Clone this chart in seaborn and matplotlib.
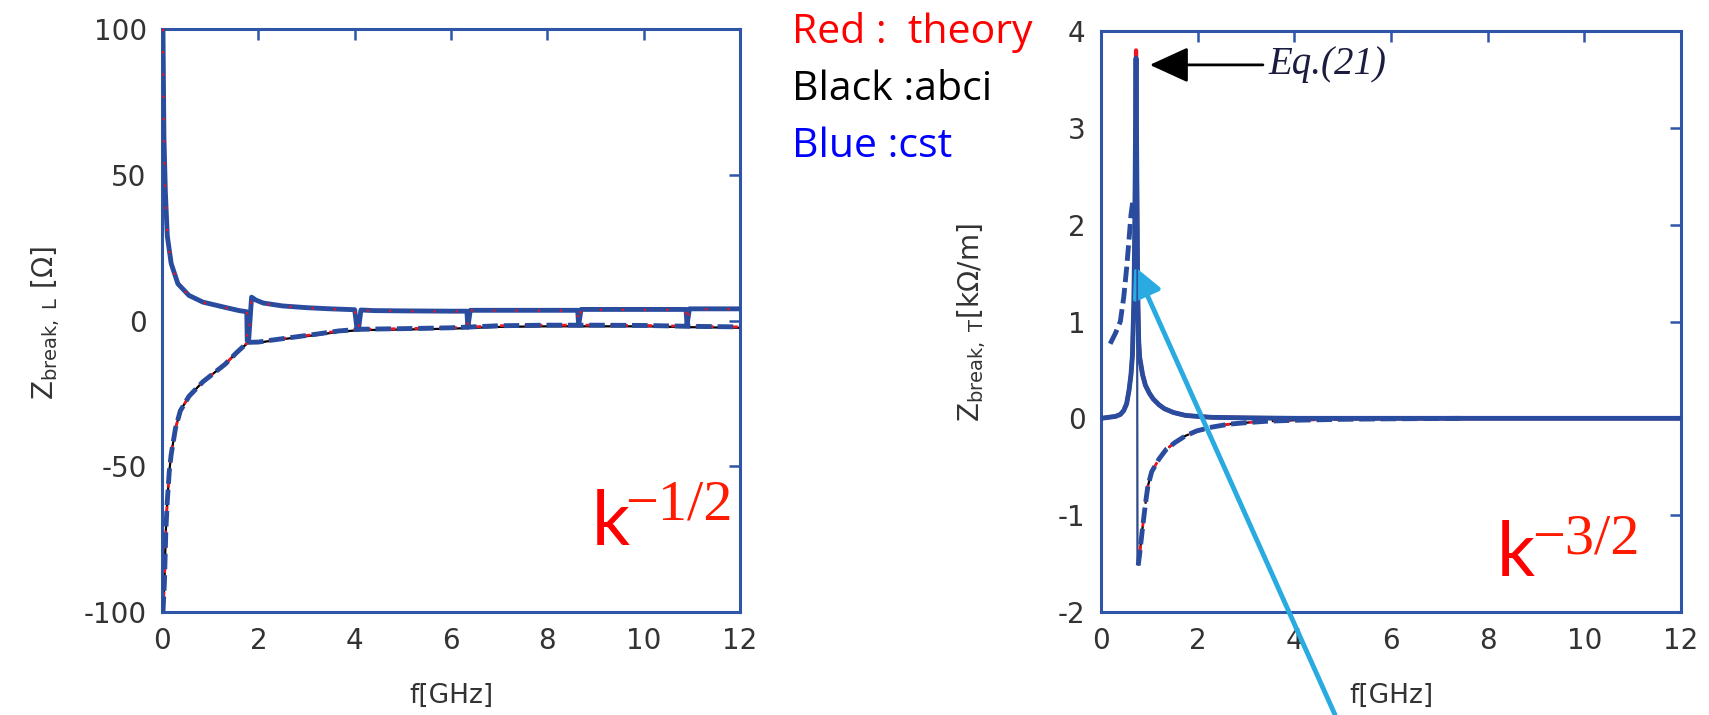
import matplotlib
matplotlib.use("Agg")
import matplotlib.pyplot as plt
import seaborn as sns
import pandas as pd

# ---------------- data ----------------
# Left panel: Z_break,L [Ohm] vs f [GHz]
fL_up = [0.02, 0.04, 0.07, 0.11, 0.19, 0.33, 0.56, 0.85, 1.31, 1.60, 1.76, 1.77, 1.80, 1.86, 1.95,
         2.10, 2.50, 3.00, 3.50, 4.00, 4.05, 4.08, 4.13, 4.40, 5.00, 6.00, 6.33, 6.35, 6.40, 7.00,
         8.00, 8.63, 8.65, 8.70, 9.50, 10.50, 10.88, 10.90, 10.95, 11.50, 12.00]
zL_up_cst = [100, 63, 44, 29, 19.6, 12.6, 8.6, 6.3, 4.5, 3.4, 3.0, -7.0, -6.5, 8.0, 7.0,
             6.0, 5.0, 4.4, 4.0, 3.7, -3.0, -3.0, 3.6, 3.4, 3.3, 3.2, 3.2, -2.3, 3.5, 3.5,
             3.5, 3.5, -1.6, 3.8, 3.8, 3.8, 3.8, -1.5, 4.0, 4.0, 4.0]
zL_up_theory = [100, 62, 43, 29, 19.4, 12.5, 8.5, 6.2, 4.4, 3.3, 3.0, -7.0, -6.5, 7.6, 6.8,
                5.9, 4.9, 4.3, 3.9, 3.6, -3.0, -3.0, 3.5, 3.3, 3.2, 3.1, 3.1, -2.3, 3.4, 3.4,
                3.4, 3.4, -1.6, 3.7, 3.7, 3.7, 3.7, -1.5, 3.9, 3.9, 3.9]
fL_lo = [0.02, 0.05, 0.08, 0.11, 0.15, 0.19, 0.28, 0.38, 0.56, 0.85, 1.31, 1.55, 1.78, 2.00,
         2.25, 2.70, 3.20, 3.66, 4.10, 5.00, 6.00, 7.00, 8.00, 9.00, 10.00, 11.00, 12.00]
zL_lo_cst = [-100, -90, -72, -62, -52, -46, -37, -31, -26, -21, -15, -11, -7.5, -7.4,
             -6.8, -5.8, -4.7, -3.6, -3.0, -2.8, -2.5, -1.8, -1.6, -1.6, -1.7, -2.0, -2.2]
zL_lo_abci = [-100, -90, -72, -62, -52, -46, -37, -31, -26, -21, -15, -11, -7.7, -7.6,
              -7.0, -6.0, -5.0, -3.9, -3.3, -3.1, -2.8, -2.2, -2.0, -2.0, -2.0, -2.3, -2.5]

# Right panel: Z_break,T [kOhm/m] vs f [GHz]
fT_up = [0.00, 0.15, 0.30, 0.40, 0.47, 0.53, 0.58, 0.62, 0.65, 0.68, 0.70, 0.725, 0.74, 0.76,
         0.78, 0.80, 0.86, 0.92, 1.00, 1.08, 1.20, 1.31, 1.50, 1.75, 2.00, 2.30, 3.00, 4.00,
         6.00, 8.00, 10.00, 12.00]
zT_up_cst = [0.0, 0.01, 0.02, 0.04, 0.08, 0.15, 0.29, 0.45, 0.65, 1.20, 2.00, 3.72, 2.60, 1.30,
             0.80, 0.63, 0.45, 0.34, 0.26, 0.20, 0.14, 0.10, 0.06, 0.03, 0.02, 0.01, 0.005, 0.0,
             0.0, 0.0, 0.0, 0.0]
zT_up_theory = [0.0, 0.01, 0.02, 0.04, 0.08, 0.15, 0.29, 0.45, 0.65, 1.20, 2.00, 3.80, 2.60, 1.30,
                0.80, 0.63, 0.45, 0.34, 0.26, 0.20, 0.14, 0.10, 0.06, 0.03, 0.02, 0.01, 0.005, 0.0,
                0.0, 0.0, 0.0, 0.0]
fT_lo = [0.77, 0.80, 0.86, 0.92, 0.97, 1.05, 1.20, 1.35, 1.53, 1.75, 1.98, 2.30, 2.65, 3.00,
         3.43, 4.00, 5.00, 6.00, 7.50]
zT_lo = [-1.52, -1.40, -1.13, -0.88, -0.70, -0.55, -0.42, -0.32, -0.25, -0.18, -0.13, -0.09,
         -0.06, -0.045, -0.03, -0.02, -0.01, -0.005, 0.0]
fT_side = [0.19, 0.30, 0.40, 0.47, 0.53, 0.58, 0.62, 0.66]
zT_side_cst = [0.77, 0.88, 1.00, 1.25, 1.55, 1.85, 2.10, 2.25]
fT_abci_v = [0.745, 0.755]
zT_abci_v = [3.65, -1.50]

# ---------------- styling ----------------
BLUE = "#2a4c9e"
RED = "#f0141e"
SPINE = "#2f55a8"
TXT = "#333333"

sns.set_theme(style="white")
plt.rcParams["font.family"] = ["DejaVu Sans"]

fig = plt.figure(figsize=(17.09, 7.15), dpi=100)
W, H = 1709, 715
axL = fig.add_axes([162 / W, (H - 612) / H, 578 / W, 583 / H])
axR = fig.add_axes([1101 / W, (H - 612) / H, 580 / W, 581 / H])


def line(ax, x, y, color, lw, ls="-", z=2):
    df = pd.DataFrame({"f": x, "z": y})
    sns.lineplot(data=df, x="f", y="z", ax=ax, color=color, lw=lw, sort=False,
                 estimator=None, linestyle=ls, zorder=z)


# left panel
line(axL, fL_up, zL_up_theory, "black", 1.6, z=2)
line(axL, fL_lo, zL_lo_abci, "black", 1.6, z=2)
line(axL, fL_up, zL_up_cst, BLUE, 3.5, z=3)
line(axL, fL_lo, zL_lo_cst, BLUE, 3.5, ls=(0, (3.2, 1.2)), z=3)
line(axL, fL_up, zL_up_theory, RED, 1.6, ls=(0, (1, 9)), z=4)
line(axL, fL_lo, zL_lo_cst, RED, 2.0, ls=(3.5, (2.0, 2.4)), z=2.5)

# right panel
line(axR, fT_abci_v, zT_abci_v, "black", 1.2, z=2)
line(axR, fT_lo, zT_lo, "black", 1.6, ls=(0, (4, 3)), z=2)
line(axR, fT_up, zT_up_theory, RED, 3.0, z=2.5)
line(axR, fT_up, zT_up_cst, BLUE, 3.5, z=3)
line(axR, fT_lo, zT_lo, BLUE, 3.5, ls=(0, (3.2, 1.2)), z=3)
line(axR, fT_lo, zT_lo, RED, 2.0, ls=(3.5, (2.0, 2.4)), z=2.5)
line(axR, fT_side, zT_side_cst, BLUE, 3.5, ls=(0, (3.2, 1.2)), z=3)
line(axR, fT_abci_v, zT_abci_v, BLUE, 1.2, z=3.5)

for ax, ylim, yticks in [(axL, (-100, 100), [-100, -50, 0, 50, 100]),
                         (axR, (-2, 4), [-2, -1, 0, 1, 2, 3, 4])]:
    ax.set_xlim(0, 12)
    ax.set_ylim(*ylim)
    ax.set_xticks([0, 2, 4, 6, 8, 10, 12])
    ax.set_yticks(yticks)
    ax.set_xticklabels([str(t) for t in [0, 2, 4, 6, 8, 10, 12]])
    ax.set_yticklabels([str(t) for t in yticks])
    ax.tick_params(direction="in", length=8, width=1.8, color=SPINE, top=True, right=True,
                   labelsize=20, labelcolor=TXT, pad=11)
    for s in ax.spines.values():
        s.set_color(SPINE)
        s.set_linewidth(2.2)
    ax.set_xlabel("f[GHz]", fontsize=19, color=TXT)
    ax.grid(False)
    ax.set_facecolor("white")

axL.set_ylabel(r"Z$_{\mathregular{break,\ L}}$ [Ω]", fontsize=20, color=TXT)
axR.set_ylabel(r"Z$_{\mathregular{break,\ T}}$[kΩ/m]", fontsize=20, color=TXT)
axL.xaxis.set_label_coords(0.5, -0.122)
axR.xaxis.set_label_coords(0.5, -0.122)
axL.yaxis.set_label_coords(-0.173, 0.496)
axR.yaxis.set_label_coords(-0.195, 0.498)

# Eq.(21) annotation
axR.annotate("", xy=(1.01, 3.65), xytext=(3.35, 3.65),
             arrowprops=dict(arrowstyle="-|>,head_length=1.2,head_width=0.55", color="black",
                             lw=2.0, shrinkA=0, shrinkB=0, mutation_scale=20))
axR.text(3.46, 3.65, "Eq.(21)", fontsize=28, style="italic", family="Liberation Serif",
         color="#1c1c40", va="center", ha="left")

# cyan pointer arrow
axR.annotate("", xy=(0.69, 1.57), xytext=(4.84, -3.06), annotation_clip=False,
             arrowprops=dict(arrowstyle="-|>,head_length=0.9,head_width=0.45", color="#29abe2",
                             lw=3.5, shrinkA=0, shrinkB=0, mutation_scale=20))

# legend-like text
leg = [("Red :  theory", "#ff0000", 43), ("Black :abci", "black", 100), ("Blue :cst", "#0000ff", 157)]
for txt, col, base in leg:
    fig.text(792 / W, (H - base) / H, txt, color=col, fontsize=29.5, family="Open Sans",
             va="baseline", ha="left")

# k^-1/2 and k^-3/2
for kx, kb, sx, sb, sup in [(592, 545, 625, 519, "\u22121/2"), (1497, 576, 1532, 553, "\u22123/2")]:
    fig.text(kx / W, (H - kb) / H, "k", color="#ff0000", fontsize=54, family="Lato",
             va="baseline", ha="left")
    fig.text(sx / W, (H - sb) / H, sup, color="#ff1a00", fontsize=42,
             family="Liberation Serif", va="baseline", ha="left")

fig.savefig("out.png", dpi=100, facecolor="white")
